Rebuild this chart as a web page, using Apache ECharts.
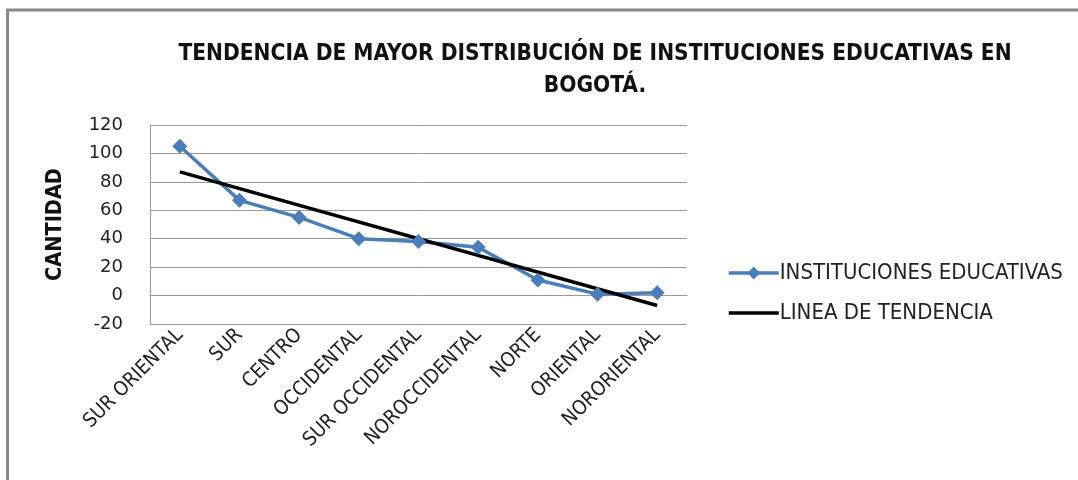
<!DOCTYPE html>
<html>
<head>
<meta charset="utf-8">
<script src="https://cdn.jsdelivr.net/npm/echarts@6/dist/echarts.min.js"></script>
<style>
  html, body { margin: 0; padding: 0; background: #fff; }
  #chart { width: 1078px; height: 480px; }
</style>
</head>
<body>
<div id="chart"></div>
<script>
// datos
var zonas = ['SUR ORIENTAL', 'SUR', 'CENTRO', 'OCCIDENTAL', 'SUR OCCIDENTAL', 'NOROCCIDENTAL', 'NORTE', 'ORIENTAL', 'NORORIENTAL'];
var instituciones = [105, 67, 55, 40, 38, 34, 11, 1, 2];
// linea de tendencia: solo extremos, se unen en recta
var tendencia = [87, null, null, null, null, null, null, null, -7];

var fuente = "'Liberation Sans Narrow', 'DejaVu Sans Condensed', sans-serif";
var fuenteNum = "'DejaVu Sans', sans-serif";

var myChart = echarts.init(document.getElementById('chart'));
var option = {
    animation: false,
    backgroundColor: '#fff',
    graphic: [{
        type: 'rect',
        shape: { x: 7.5, y: 10, width: 1200, height: 600 },
        style: { fill: 'none', stroke: '#8a8a8a', lineWidth: 3 }
    }],
    title: {
        text: 'TENDENCIA DE MAYOR DISTRIBUCIÓN DE INSTITUCIONES EDUCATIVAS EN\nBOGOTÁ.',
        left: 590,
        top: 33,
        textAlign: 'center',
        textStyle: {
            fontFamily: fuente,
            fontSize: 22.5,
            fontWeight: 'bold',
            color: '#111',
            lineHeight: 32
        }
    },
    legend: {
        orient: 'vertical',
        left: 722,
        top: 257,
        itemWidth: 50,
        itemHeight: 16,
        itemGap: 18,
        textStyle: { fontFamily: fuente, fontSize: 22, color: '#222', padding: [0, 0, 0, -4] },
        data: [
            { name: 'INSTITUCIONES EDUCATIVAS', lineStyle: { width: 3.5 } },
            { name: 'LINEA DE TENDENCIA', itemStyle: { opacity: 0 }, lineStyle: { width: 3.5 } }
        ]
    },
    grid: { left: 150, right: 391, top: 125, bottom: 156 },
    xAxis: {
        type: 'category',
        data: zonas,
        axisLine: { lineStyle: { color: '#999' } },
        axisTick: { show: false },
        axisLabel: {
            rotate: 45,
            interval: 0,
            margin: 8,
            fontFamily: fuente,
            fontSize: 20,
            color: '#222'
        }
    },
    yAxis: {
        type: 'value',
        min: -20,
        max: 120,
        interval: 20,
        name: 'CANTIDAD',
        nameLocation: 'middle',
        nameGap: 84,
        nameTextStyle: { fontFamily: fuente, fontSize: 21.5, fontWeight: 'bold', color: '#111' },
        axisLine: { show: true, lineStyle: { color: '#999' } },
        axisTick: { show: false },
        splitLine: { lineStyle: { color: '#999', width: 1 } },
        axisLabel: { fontFamily: fuenteNum, fontSize: 18, color: '#222', margin: 27 }
    },
    series: [{
        name: 'INSTITUCIONES EDUCATIVAS',
        type: 'line',
        data: instituciones,
        symbol: 'diamond',
        symbolSize: 15,
        color: '#4a7ebb',
        lineStyle: { width: 3.5, color: '#4a7ebb' }
    }, {
        name: 'LINEA DE TENDENCIA',
        type: 'line',
        data: tendencia,
        connectNulls: true,
        showSymbol: false,
        symbol: 'none',
        color: '#000',
        lineStyle: { width: 3.5, color: '#000' }
    }]
};
myChart.setOption(option);
</script>
</body>
</html>
